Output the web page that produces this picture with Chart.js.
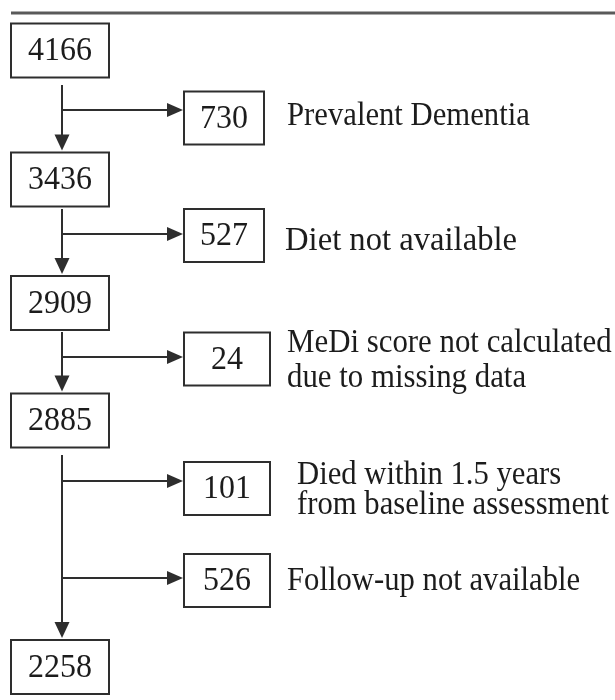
<!DOCTYPE html>
<html>
<head>
<meta charset="utf-8">
<script src="https://cdn.jsdelivr.net/npm/chart.js@4"></script>
<style>
    html, body { margin: 0; padding: 0; background: #fff; }
    #flow { display: block; }
</style>
</head>
<body>
<canvas id="flow" width="615" height="700"></canvas>
<script>
// participants left after each step
const remainingCounts = [4166, 3436, 2909, 2885, 2258];
// participants excluded at each step, and why
const excludedCounts = [730, 527, 24, 101, 526];
const exclusionReasons = [
    ['Prevalent Dementia'],
    ['Diet not available'],
    ['MeDi score not calculated', 'due to missing data'],
    ['Died within 1.5 years', 'from baseline assessment'],
    ['Follow-up not available'],
];
// which remaining box each exclusion branches off from
const exclusionFrom = [0, 1, 2, 3, 3];

// layout, in chart units (x 0..615, y 0..700 from the top)
const layout = {
    mainX: 60, mainW: 98, mainH: 54,
    mainY: [50.5, 179.5, 303, 420.5, 667],
    stemX: 62,
    stemStart: [85, 209, 332, 455],
    exclLeft: 184,
    exclW: [80, 80, 86, 86, 86], exclH: 53,
    exclY: [118, 235.5, 359, 488.5, 580.5],
    branchY: [110, 234, 357, 481, 578],
    reasonX: [287, 285, 287, 297, 287],
    reasonY: [[116], [241], [343, 378], [475, 505], [581]],
    reasonSize: [33, 34, 33, 33, 33],
    reasonSquash: [0.93, 0.96, 0.935, 0.93, 0.93],
    ruleY: 13,
};

const ink = '#1c1c1c';
const lineInk = '#2e2e2e';
const serif = '"Liberation Serif", "Times New Roman", serif';

// draw text narrowed horizontally, like the condensed print in the source
function squashedText(ctx, text, x, y, k) {
    ctx.save();
    ctx.translate(x, y);
    ctx.scale(k, 1);
    ctx.fillText(text, 0, 0);
    ctx.restore();
}

const flowPlugin = {
    id: 'flow',
    beforeDraw(chart) {
        const ctx = chart.ctx;
        ctx.save();
        ctx.fillStyle = '#fff';
        ctx.fillRect(0, 0, chart.width, chart.height);
        ctx.restore();
    },
    afterDatasetsDraw(chart) {
        const ctx = chart.ctx;
        const xs = chart.scales.x;
        const ys = chart.scales.y;
        const px = (v) => xs.getPixelForValue(v);
        const py = (v) => ys.getPixelForValue(v);

        const arrowDown = (x, y) => {
            ctx.beginPath();
            ctx.moveTo(x, y);
            ctx.lineTo(x - 7.5, y - 16);
            ctx.lineTo(x + 7.5, y - 16);
            ctx.closePath();
            ctx.fill();
        };
        const arrowRight = (x, y) => {
            ctx.beginPath();
            ctx.moveTo(x, y);
            ctx.lineTo(x - 16, y - 7);
            ctx.lineTo(x - 16, y + 7);
            ctx.closePath();
            ctx.fill();
        };

        ctx.save();

        // rule across the top
        ctx.strokeStyle = '#5a5a5a';
        ctx.lineWidth = 3;
        ctx.beginPath();
        ctx.moveTo(px(11), py(layout.ruleY));
        ctx.lineTo(px(615), py(layout.ruleY));
        ctx.stroke();

        ctx.strokeStyle = lineInk;
        ctx.lineWidth = 2;

        // boxes with the remaining counts
        const mainMeta = chart.getDatasetMeta(0);
        mainMeta.data.forEach((pt, i) => {
            const w = layout.mainW, h = layout.mainH;
            ctx.strokeRect(pt.x - w / 2, pt.y - h / 2, w, h);
            ctx.fillStyle = ink;
            ctx.font = `34px ${serif}`;
            ctx.textAlign = 'center';
            ctx.textBaseline = 'middle';
            squashedText(ctx, String(remainingCounts[i]), pt.x, pt.y + 1, 0.94);
        });

        // stems down to the next box
        ctx.fillStyle = lineInk;
        for (let i = 0; i < remainingCounts.length - 1; i++) {
            const next = mainMeta.data[i + 1];
            const tip = next.y - layout.mainH / 2 - 2;
            ctx.beginPath();
            ctx.moveTo(px(layout.stemX), py(layout.stemStart[i]));
            ctx.lineTo(px(layout.stemX), tip - 12);
            ctx.stroke();
            arrowDown(px(layout.stemX), tip);
        }

        // exclusion boxes and their branches
        const exclMeta = chart.getDatasetMeta(1);
        exclMeta.data.forEach((pt, i) => {
            const w = layout.exclW[i], h = layout.exclH;
            const left = pt.x - w / 2;
            ctx.strokeRect(left, pt.y - h / 2, w, h);

            const by = py(layout.branchY[i]);
            ctx.fillStyle = lineInk;
            ctx.beginPath();
            ctx.moveTo(px(layout.stemX), by);
            ctx.lineTo(left - 12, by);
            ctx.stroke();
            arrowRight(left - 1, by);

            ctx.fillStyle = ink;
            ctx.font = `34px ${serif}`;
            ctx.textAlign = 'center';
            ctx.textBaseline = 'middle';
            squashedText(ctx, String(excludedCounts[i]), pt.x, pt.y + 1, 0.94);

            ctx.font = `${layout.reasonSize[i]}px ${serif}`;
            ctx.textAlign = 'left';
            exclusionReasons[i].forEach((line, j) => {
                squashedText(ctx, line, px(layout.reasonX[i]), py(layout.reasonY[i][j]), layout.reasonSquash[i]);
            });
        });

        ctx.restore();
    },
};

new Chart(document.getElementById('flow'), {
    type: 'scatter',
    data: {
        datasets: [
            {
                label: 'Remaining',
                data: remainingCounts.map((n, i) => ({ x: layout.mainX, y: layout.mainY[i] })),
                pointRadius: 0,
            },
            {
                label: 'Excluded',
                data: excludedCounts.map((n, i) => ({ x: layout.exclLeft + layout.exclW[i] / 2, y: layout.exclY[i] })),
                pointRadius: 0,
            },
        ],
    },
    options: {
        responsive: false,
        animation: false,
        layout: { padding: 0 },
        plugins: {
            legend: { display: false },
            tooltip: { enabled: false },
        },
        scales: {
            x: { type: 'linear', min: 0, max: 615, display: false },
            y: { type: 'linear', min: 0, max: 700, reverse: true, display: false },
        },
    },
    plugins: [flowPlugin],
});
</script>
</body>
</html>
